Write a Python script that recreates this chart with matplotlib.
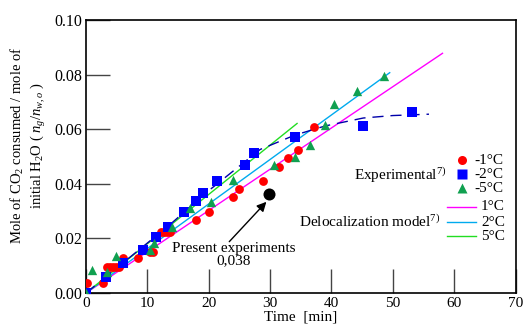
import matplotlib
matplotlib.use("Agg")
import matplotlib.pyplot as plt
from matplotlib.lines import Line2D

plt.rcParams['font.family'] = ['Liberation Serif', 'DejaVu Serif']
plt.rcParams['mathtext.fontset'] = 'custom'
plt.rcParams['mathtext.rm'] = 'Liberation Serif'
plt.rcParams['mathtext.it'] = 'Liberation Serif:italic'

# -1 C experimental (red circles)
red_t = [0.1, 2.8, 3.4, 3.9, 4.4, 4.9, 5.3, 6.0, 8.4, 10.5, 11.0, 12.2, 12.7, 13.2, 13.7,
         17.9, 20.0, 23.9, 25.0, 28.8, 31.5, 33.0, 34.5, 37.1]
red_y = [0.0036, 0.0038, 0.0094, 0.0095, 0.0095, 0.0094, 0.0095, 0.0127, 0.0129, 0.0151, 0.0150,
         0.0222, 0.0223, 0.0222, 0.0222, 0.0267, 0.0298, 0.0353, 0.0382, 0.0411, 0.0463, 0.0493,
         0.0524, 0.0609]
# -2 C experimental (blue squares)
blue_t = [0.0, 3.3, 6.0, 9.35, 11.4, 13.4, 16.0, 17.9, 19.0, 21.4, 25.9, 27.4, 34.1, 45.2, 53.2]
blue_y = [0.0, 0.0060, 0.0109, 0.0158, 0.0204, 0.0243, 0.0298, 0.0337, 0.0367, 0.0410, 0.0469,
          0.0512, 0.0573, 0.0612, 0.0664]
# -5 C experimental (green triangles)
green_t = [0.0, 0.9, 3.4, 4.9, 10.4, 11.1, 14.0, 17.0, 20.4, 24.0, 30.6, 34.1, 36.5, 39.0, 40.5,
           44.2, 48.5]
green_y = [0.0, 0.0084, 0.0078, 0.0136, 0.0158, 0.0182, 0.0243, 0.0310, 0.0334, 0.0414, 0.0469,
           0.0500, 0.0542, 0.0615, 0.0692, 0.0740, 0.0795]

# Delocalization model lines (start, end)
m1_t = [0.0, 58.1]
m1_y = [0.0, 0.0878]
m2_t = [0.0, 49.5]
m2_y = [0.0, 0.0807]
m5_t = [0.0, 34.4]
m5_y = [0.0, 0.0621]

# Dashed fit through -2 C data
fit_t = [0.0, 6.0, 13.4, 20.0, 28.4, 34.0, 39.0, 45.2, 50.0, 55.9]
fit_y = [0.0, 0.0110, 0.0245, 0.0375, 0.0526, 0.0578, 0.0612, 0.0641, 0.0650, 0.0655]

# Present experiment
pres_t = [29.9]
pres_y = [0.0361]

xticks = [0, 10, 20, 30, 40, 50, 60, 70]
yticks = [0.0, 0.02, 0.04, 0.06, 0.08, 0.10]

fig = plt.figure(figsize=(5.25, 3.29), dpi=100)
ax = fig.add_axes([86/525, 1 - 293/329, (515.5-86)/525, (293-20)/329])

ax.plot(m1_t, m1_y, color='#ff00ff', lw=1.0, zorder=2)
ax.plot(m2_t, m2_y, color='#00aaee', lw=1.0, zorder=2)
ax.plot(m5_t, m5_y, color='#22dd22', lw=1.0, zorder=2)
ax.plot(fit_t, fit_y, color='#0000aa', lw=1.0, ls=(0, (8, 5)), zorder=2)

ax.scatter(red_t, red_y, s=40, marker='o', color='#ff0000', zorder=3, linewidths=0)
ax.scatter(blue_t, blue_y, s=42, marker='s', color='#0000ff', zorder=3, linewidths=0)
ax.scatter(green_t, green_y, s=45, marker='^', color='#10a050', zorder=4, linewidths=0)
ax.scatter(pres_t, pres_y, s=75, marker='o', color='black', zorder=5, linewidths=0)

ax.text(24.0, 0.0141, 'Present experiments\n0,038', ha='center', va='center', fontsize=11,
        linespacing=0.95)
ax.annotate('', xy=(29.4, 0.0334), xytext=(23.35, 0.0188),
            arrowprops=dict(arrowstyle='-|>', color='black', lw=1.0, shrinkA=0, shrinkB=0,
                            mutation_scale=14))

ax.set_xlim(0, 70)
ax.set_ylim(0, 0.10)
ax.set_xticks(xticks)
ax.set_yticks(yticks)
ax.set_yticklabels([f'{v:.2f}' for v in yticks])
ax.tick_params(direction='in', length=17, width=1.0, labelsize=11.5, color='#444444')
ax.tick_params(axis='x', pad=3, labelsize=11)
ax.tick_params(axis='y', pad=3)
for sp in ax.spines.values():
    sp.set_linewidth(1.2)

ax.set_xlabel('Time  [min]', fontsize=11, labelpad=0.5)
ax.set_ylabel('Mole of CO$_2$ consumed / mole of\ninitial H$_2$O ( $n_g/n_{w,o}$ )',
              fontsize=10.5, linespacing=1.25)
ax.yaxis.set_label_coords(-0.088, 0.54)

# Custom legend
T = ax.transAxes
def fx(px):
    return (px - 86) / (515.5 - 86)
def fy(py):
    return (293 - py) / (293 - 20)

ax.text(fx(447), fy(175), 'Experimental$^{7)}$', transform=T, ha='right', va='center', fontsize=11)
for py, col, mk, lab in [(160, '#ff0000', 'o', '-1°C'), (174, '#0000ff', 's', '-2°C'),
                         (188, '#10a050', '^', '-5°C')]:
    ax.add_line(Line2D([fx(462)], [fy(py)], transform=T, marker=mk, color=col, ms=6.5,
                       ls='none', mec='none'))
    ax.text(fx(474), fy(py), lab, transform=T, ha='left', va='center', fontsize=11)

ax.text(fx(440), fy(222), 'Delocalization model$^{7)}$', transform=T, ha='right', va='center',
        fontsize=11)
for py, col, lab in [(207, '#ff00ff', '1°C'), (222, '#00aaee', '2°C'), (236, '#22dd22', '5°C')]:
    ax.add_line(Line2D([fx(447), fx(476)], [fy(py), fy(py)], transform=T, color=col, lw=1.0))
    ax.text(fx(481), fy(py), lab, transform=T, ha='left', va='center', fontsize=11)

fig.savefig('out.png', dpi=100)
